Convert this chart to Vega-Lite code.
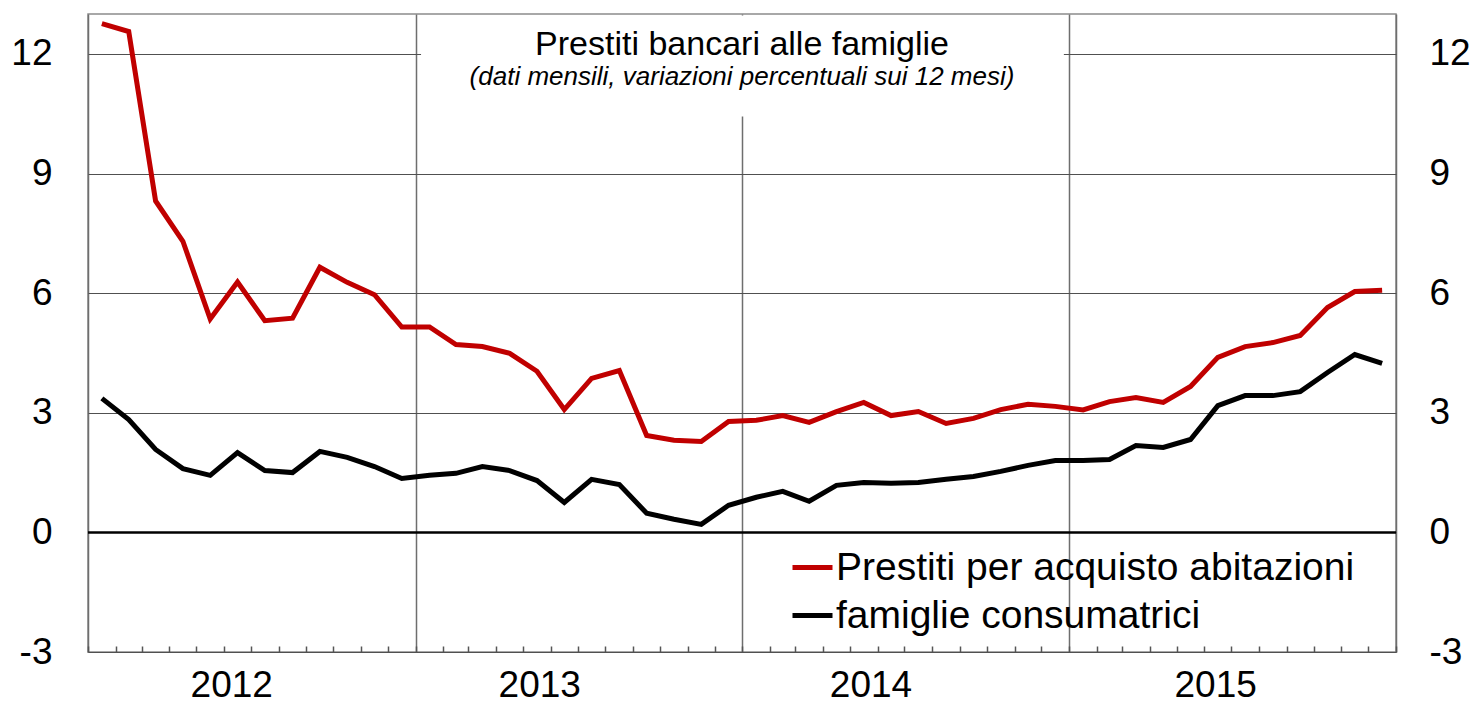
{
  "$schema": "https://vega.github.io/schema/vega-lite/v6.json",
  "width": 1308,
  "height": 638,
  "autosize": {"type": "none"},
  "padding": {"left": 88, "top": 14, "right": 76, "bottom": 53},
  "background": "white",
  "config": {
    "font": "Liberation Sans",
    "view": {"stroke": "#8c8c8c", "strokeWidth": 1.5},
    "axis": {"labelFont": "Liberation Sans", "labelColor": "#000000", "title": null},
    "legend": {
      "orient": "none",
      "legendX": 702,
      "legendY": 531,
      "symbolType": "stroke",
      "symbolSize": 1600,
      "symbolStrokeWidth": 5,
      "labelFontSize": 39,
      "labelFont": "Liberation Sans",
      "labelColor": "#000000",
      "labelLimit": 1000,
      "labelOffset": 1,
      "rowPadding": 5,
      "padding": 0,
      "title": null
    }
  },
  "title": {
    "text": "Prestiti bancari alle famiglie",
    "subtitle": "(dati mensili, variazioni percentuali sui 12 mesi)",
    "anchor": "middle",
    "frame": "group",
    "offset": -76,
    "font": "Liberation Sans",
    "fontSize": 34,
    "fontWeight": "normal",
    "color": "#000000",
    "subtitleFont": "Liberation Sans",
    "subtitleFontSize": 26,
    "subtitleFontStyle": "italic",
    "subtitleColor": "#000000",
    "subtitlePadding": 2
  },
  "data": {
    "values": [
      {"mese": "2012-01", "serie": "Prestiti per acquisto abitazioni", "valore": 12.76},
      {"mese": "2012-02", "serie": "Prestiti per acquisto abitazioni", "valore": 12.56},
      {"mese": "2012-03", "serie": "Prestiti per acquisto abitazioni", "valore": 8.31},
      {"mese": "2012-04", "serie": "Prestiti per acquisto abitazioni", "valore": 7.30},
      {"mese": "2012-05", "serie": "Prestiti per acquisto abitazioni", "valore": 5.35},
      {"mese": "2012-06", "serie": "Prestiti per acquisto abitazioni", "valore": 6.28},
      {"mese": "2012-07", "serie": "Prestiti per acquisto abitazioni", "valore": 5.31},
      {"mese": "2012-08", "serie": "Prestiti per acquisto abitazioni", "valore": 5.37},
      {"mese": "2012-09", "serie": "Prestiti per acquisto abitazioni", "valore": 6.65},
      {"mese": "2012-10", "serie": "Prestiti per acquisto abitazioni", "valore": 6.27},
      {"mese": "2012-11", "serie": "Prestiti per acquisto abitazioni", "valore": 5.96},
      {"mese": "2012-12", "serie": "Prestiti per acquisto abitazioni", "valore": 5.15},
      {"mese": "2013-01", "serie": "Prestiti per acquisto abitazioni", "valore": 5.15},
      {"mese": "2013-02", "serie": "Prestiti per acquisto abitazioni", "valore": 4.71},
      {"mese": "2013-03", "serie": "Prestiti per acquisto abitazioni", "valore": 4.66},
      {"mese": "2013-04", "serie": "Prestiti per acquisto abitazioni", "valore": 4.49},
      {"mese": "2013-05", "serie": "Prestiti per acquisto abitazioni", "valore": 4.04},
      {"mese": "2013-06", "serie": "Prestiti per acquisto abitazioni", "valore": 3.08},
      {"mese": "2013-07", "serie": "Prestiti per acquisto abitazioni", "valore": 3.86},
      {"mese": "2013-08", "serie": "Prestiti per acquisto abitazioni", "valore": 4.06},
      {"mese": "2013-09", "serie": "Prestiti per acquisto abitazioni", "valore": 2.43},
      {"mese": "2013-10", "serie": "Prestiti per acquisto abitazioni", "valore": 2.31},
      {"mese": "2013-11", "serie": "Prestiti per acquisto abitazioni", "valore": 2.28},
      {"mese": "2013-12", "serie": "Prestiti per acquisto abitazioni", "valore": 2.78},
      {"mese": "2014-01", "serie": "Prestiti per acquisto abitazioni", "valore": 2.81},
      {"mese": "2014-02", "serie": "Prestiti per acquisto abitazioni", "valore": 2.93},
      {"mese": "2014-03", "serie": "Prestiti per acquisto abitazioni", "valore": 2.76},
      {"mese": "2014-04", "serie": "Prestiti per acquisto abitazioni", "valore": 3.03},
      {"mese": "2014-05", "serie": "Prestiti per acquisto abitazioni", "valore": 3.26},
      {"mese": "2014-06", "serie": "Prestiti per acquisto abitazioni", "valore": 2.93},
      {"mese": "2014-07", "serie": "Prestiti per acquisto abitazioni", "valore": 3.03},
      {"mese": "2014-08", "serie": "Prestiti per acquisto abitazioni", "valore": 2.73},
      {"mese": "2014-09", "serie": "Prestiti per acquisto abitazioni", "valore": 2.86},
      {"mese": "2014-10", "serie": "Prestiti per acquisto abitazioni", "valore": 3.08},
      {"mese": "2014-11", "serie": "Prestiti per acquisto abitazioni", "valore": 3.21},
      {"mese": "2014-12", "serie": "Prestiti per acquisto abitazioni", "valore": 3.16},
      {"mese": "2015-01", "serie": "Prestiti per acquisto abitazioni", "valore": 3.07},
      {"mese": "2015-02", "serie": "Prestiti per acquisto abitazioni", "valore": 3.28},
      {"mese": "2015-03", "serie": "Prestiti per acquisto abitazioni", "valore": 3.38},
      {"mese": "2015-04", "serie": "Prestiti per acquisto abitazioni", "valore": 3.26},
      {"mese": "2015-05", "serie": "Prestiti per acquisto abitazioni", "valore": 3.66},
      {"mese": "2015-06", "serie": "Prestiti per acquisto abitazioni", "valore": 4.39},
      {"mese": "2015-07", "serie": "Prestiti per acquisto abitazioni", "valore": 4.66},
      {"mese": "2015-08", "serie": "Prestiti per acquisto abitazioni", "valore": 4.76},
      {"mese": "2015-09", "serie": "Prestiti per acquisto abitazioni", "valore": 4.94},
      {"mese": "2015-10", "serie": "Prestiti per acquisto abitazioni", "valore": 5.64},
      {"mese": "2015-11", "serie": "Prestiti per acquisto abitazioni", "valore": 6.04},
      {"mese": "2015-12", "serie": "Prestiti per acquisto abitazioni", "valore": 6.07},
      {"mese": "2012-01", "serie": "famiglie consumatrici", "valore": 3.36},
      {"mese": "2012-02", "serie": "famiglie consumatrici", "valore": 2.83},
      {"mese": "2012-03", "serie": "famiglie consumatrici", "valore": 2.08},
      {"mese": "2012-04", "serie": "famiglie consumatrici", "valore": 1.60},
      {"mese": "2012-05", "serie": "famiglie consumatrici", "valore": 1.43},
      {"mese": "2012-06", "serie": "famiglie consumatrici", "valore": 2.00},
      {"mese": "2012-07", "serie": "famiglie consumatrici", "valore": 1.55},
      {"mese": "2012-08", "serie": "famiglie consumatrici", "valore": 1.50},
      {"mese": "2012-09", "serie": "famiglie consumatrici", "valore": 2.03},
      {"mese": "2012-10", "serie": "famiglie consumatrici", "valore": 1.88},
      {"mese": "2012-11", "serie": "famiglie consumatrici", "valore": 1.65},
      {"mese": "2012-12", "serie": "famiglie consumatrici", "valore": 1.35},
      {"mese": "2013-01", "serie": "famiglie consumatrici", "valore": 1.43},
      {"mese": "2013-02", "serie": "famiglie consumatrici", "valore": 1.48},
      {"mese": "2013-03", "serie": "famiglie consumatrici", "valore": 1.65},
      {"mese": "2013-04", "serie": "famiglie consumatrici", "valore": 1.55},
      {"mese": "2013-05", "serie": "famiglie consumatrici", "valore": 1.30},
      {"mese": "2013-06", "serie": "famiglie consumatrici", "valore": 0.75},
      {"mese": "2013-07", "serie": "famiglie consumatrici", "valore": 1.33},
      {"mese": "2013-08", "serie": "famiglie consumatrici", "valore": 1.20},
      {"mese": "2013-09", "serie": "famiglie consumatrici", "valore": 0.48},
      {"mese": "2013-10", "serie": "famiglie consumatrici", "valore": 0.33},
      {"mese": "2013-11", "serie": "famiglie consumatrici", "valore": 0.20},
      {"mese": "2013-12", "serie": "famiglie consumatrici", "valore": 0.68},
      {"mese": "2014-01", "serie": "famiglie consumatrici", "valore": 0.88},
      {"mese": "2014-02", "serie": "famiglie consumatrici", "valore": 1.03},
      {"mese": "2014-03", "serie": "famiglie consumatrici", "valore": 0.78},
      {"mese": "2014-04", "serie": "famiglie consumatrici", "valore": 1.18},
      {"mese": "2014-05", "serie": "famiglie consumatrici", "valore": 1.25},
      {"mese": "2014-06", "serie": "famiglie consumatrici", "valore": 1.23},
      {"mese": "2014-07", "serie": "famiglie consumatrici", "valore": 1.25},
      {"mese": "2014-08", "serie": "famiglie consumatrici", "valore": 1.33},
      {"mese": "2014-09", "serie": "famiglie consumatrici", "valore": 1.40},
      {"mese": "2014-10", "serie": "famiglie consumatrici", "valore": 1.53},
      {"mese": "2014-11", "serie": "famiglie consumatrici", "valore": 1.68},
      {"mese": "2014-12", "serie": "famiglie consumatrici", "valore": 1.80},
      {"mese": "2015-01", "serie": "famiglie consumatrici", "valore": 1.80},
      {"mese": "2015-02", "serie": "famiglie consumatrici", "valore": 1.83},
      {"mese": "2015-03", "serie": "famiglie consumatrici", "valore": 2.18},
      {"mese": "2015-04", "serie": "famiglie consumatrici", "valore": 2.13},
      {"mese": "2015-05", "serie": "famiglie consumatrici", "valore": 2.33},
      {"mese": "2015-06", "serie": "famiglie consumatrici", "valore": 3.18},
      {"mese": "2015-07", "serie": "famiglie consumatrici", "valore": 3.43},
      {"mese": "2015-08", "serie": "famiglie consumatrici", "valore": 3.43},
      {"mese": "2015-09", "serie": "famiglie consumatrici", "valore": 3.53},
      {"mese": "2015-10", "serie": "famiglie consumatrici", "valore": 4.01},
      {"mese": "2015-11", "serie": "famiglie consumatrici", "valore": 4.46},
      {"mese": "2015-12", "serie": "famiglie consumatrici", "valore": 4.24}
    ]
  },
  "layer": [
    {
      "mark": {"type": "point", "opacity": 0},
      "encoding": {
        "x": {
          "field": "mese", "timeUnit": "utcyearmonth", "type": "temporal", "bandPosition": 0.5,
          "scale": {"type": "utc", "domain": [{"year": 2012, "month": 1, "date": 1, "utc": true}, {"year": 2016, "month": 1, "date": 1, "utc": true}]},
          "axis": {"orient": "bottom", "tickCount": {"interval": "year", "step": 1}, "grid": true, "gridColor": "#6e6e6e", "gridWidth": 1.5, "labels": false, "ticks": false, "domain": false, "zindex": 0}
        },
        "y": {
          "field": "valore", "type": "quantitative",
          "scale": {"domain": [-3, 13], "nice": false, "zero": false},
          "axis": {"orient": "right", "values": [-3, 0, 3, 6, 9, 12], "labelExpr": "datum.value + ''", "grid": false, "ticks": false, "tickSize": 0, "domain": false, "labelFontSize": 37, "labelPadding": 33, "labelAlign": "left"}
        }
      }
    },
    {
      "mark": {"type": "point", "opacity": 0},
      "encoding": {
        "x": {
          "field": "mese", "timeUnit": "utcyearmonth", "type": "temporal", "bandPosition": 0.5,
          "axis": {"orient": "bottom", "tickCount": {"interval": "month", "step": 1}, "offset": -6, "tickSize": 6, "tickColor": "#555555", "tickWidth": 1.5, "labels": false, "domain": false, "grid": false}
        },
        "y": {"field": "valore", "type": "quantitative", "axis": null}
      }
    },
    {
      "data": {"values": [{}]},
      "mark": {"type": "rect", "fill": "white", "stroke": null},
      "encoding": {
        "x": {"datum": {"year": 2013, "month": 1, "date": 7, "utc": true}, "type": "temporal", "axis": null},
        "x2": {"datum": {"year": 2014, "month": 12, "date": 26, "utc": true}},
        "y": {"datum": 10.43, "type": "quantitative", "axis": null},
        "y2": {"datum": 12.96}
      }
    },
    {
      "data": {"values": [{}]},
      "mark": {"type": "rule", "color": "#000000", "strokeWidth": 2.5},
      "encoding": {
        "y": {"datum": 0, "type": "quantitative", "axis": null}
      }
    },
    {
      "mark": {"type": "line", "strokeWidth": 5},
      "encoding": {
        "x": {
          "field": "mese", "timeUnit": "utcyearmonth", "type": "temporal", "bandPosition": 0.5,
          "axis": {
            "orient": "bottom",
            "values": [
              {"year": 2012, "month": 6, "date": 9, "utc": true},
              {"year": 2013, "month": 5, "date": 19, "utc": true},
              {"year": 2014, "month": 5, "date": 24, "utc": true},
              {"year": 2015, "month": 6, "date": 13, "utc": true}
            ],
            "format": "%Y", "labelFontSize": 37, "labelPadding": 15, "ticks": false, "tickSize": 0, "domain": false, "grid": false, "labelFlush": false, "labelOverlap": false
          }
        },
        "y": {
          "field": "valore", "type": "quantitative",
          "axis": {"orient": "left", "values": [-3, 0, 3, 6, 9, 12], "labelExpr": "datum.value + ''", "grid": true, "gridColor": "#505050", "gridWidth": 1, "ticks": false, "tickSize": 0, "domain": false, "labelFontSize": 37, "labelPadding": 36, "zindex": 0}
        },
        "color": {
          "field": "serie", "type": "nominal",
          "scale": {"domain": ["Prestiti per acquisto abitazioni", "famiglie consumatrici"], "range": ["#c00000", "#000000"]},
          "legend": {}
        }
      }
    }
  ],
  "resolve": {"axis": {"x": "independent", "y": "independent"}}
}
